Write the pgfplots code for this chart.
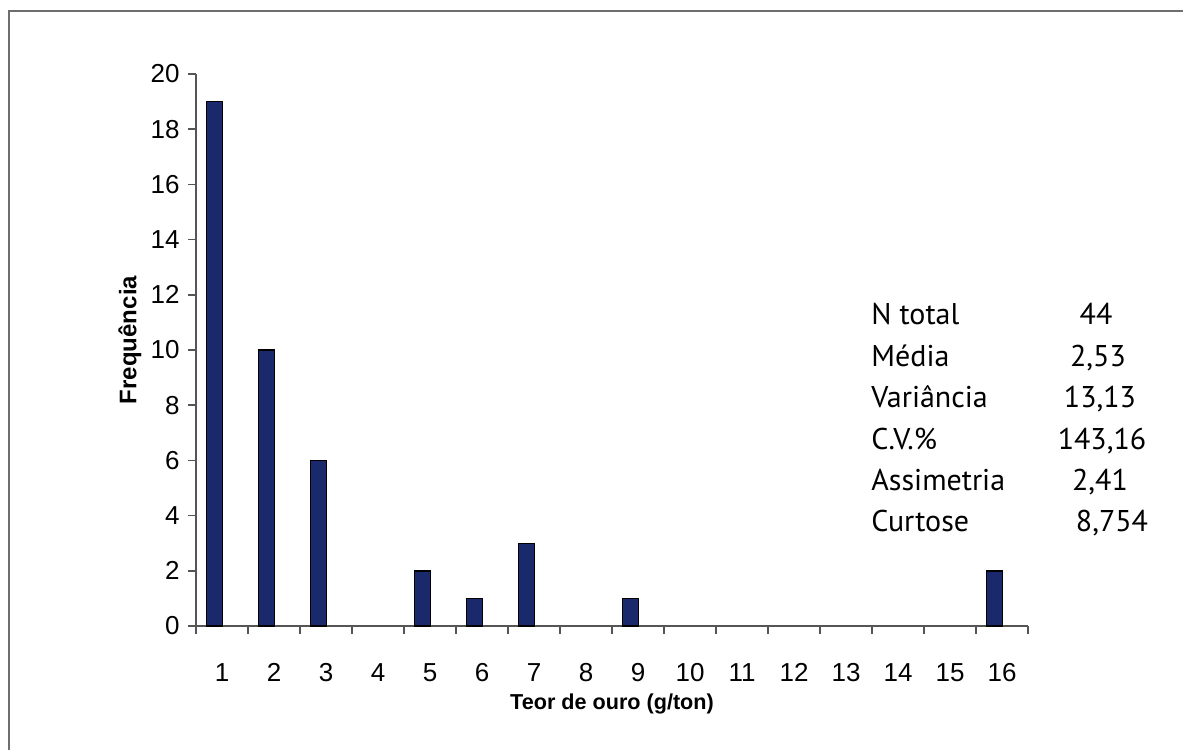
\documentclass[border=0pt]{standalone}
\usepackage{fontspec}
\setmainfont{Liberation Sans}
\newfontfamily\statfont{PT Sans}
\usepackage{pgfplots}
\pgfplotsset{compat=1.18}
\definecolor{barnavy}{RGB}{26,40,108}
\definecolor{axgray}{RGB}{85,85,85}
\definecolor{framegray}{RGB}{110,110,110}
\begin{document}
\begin{tikzpicture}
\useasboundingbox (0,0) rectangle (591.5pt,375pt);
\fill[white] (0,0) rectangle (591.5pt,375pt);
\draw[framegray, line width=1pt] (4.5pt,0pt) -- (4.5pt,369.5pt) -- (591.5pt,369.5pt);
\begin{axis}[
  at={(98pt,62pt)}, anchor=south west,
  scale only axis, width=416pt, height=276pt,
  xmin=0.5, xmax=16.5, ymin=0, ymax=20,
  axis x line*=bottom, axis y line*=left,
  axis line style={axgray, line width=0.8pt},
  xtick={1,...,16},
  xticklabels={1,2,3,4,5,6,7,8,9,10,11,12,13,14,15,16},
  major x tick style={draw=none},
  minor xtick={0.5,1.5,...,16.5},
  minor x tick style={axgray, line width=0.8pt},
  ytick={0,2,...,20},
  y tick style={axgray, line width=0.8pt},
  tick align=outside,
  minor tick length=4pt,
  major tick length=4pt,
  /pgf/number format/assume math mode=true,
  tick label style={font=\fontsize{13}{15}\selectfont, black},
  xticklabel style={anchor=base, inner sep=0pt, yshift=-23.5pt},
  yticklabel style={anchor=east, inner sep=0pt, xshift=-4pt},
  clip=false,
]
\addplot[ybar, bar width=8.25pt, bar shift=-3.75pt, fill=barnavy, draw=black, line width=0.7pt]
  coordinates {(1,19) (2,10) (3,6) (5,2) (6,1) (7,3) (9,1) (16,2)};
\end{axis}
\node[rotate=90, font=\fontsize{12}{14}\selectfont\bfseries] at (65pt,205pt) {Frequência};
\node[font=\fontsize{10.8}{12}\selectfont\bfseries] at (306pt,23pt) {Teor de ouro (g/ton)};
\begin{scope}[font=\statfont\fontsize{15}{18}\selectfont]
\node[anchor=base west, inner sep=0pt] at (435.5pt,212.5pt) {N total};
\node[anchor=base west, inner sep=0pt] at (435.5pt,191.8pt) {Média};
\node[anchor=base west, inner sep=0pt] at (435.5pt,171.1pt) {Variância};
\node[anchor=base west, inner sep=0pt] at (435.5pt,150.4pt) {C.V.\%};
\node[anchor=base west, inner sep=0pt] at (435.5pt,129.7pt) {Assimetria};
\node[anchor=base west, inner sep=0pt] at (435.5pt,109pt) {Curtose};
\node[anchor=base, inner sep=0pt] at (548pt,212.5pt) {44};
\node[anchor=base, inner sep=0pt] at (549pt,191.8pt) {2,53};
\node[anchor=base, inner sep=0pt] at (550pt,171.1pt) {13,13};
\node[anchor=base, inner sep=0pt] at (551pt,150.4pt) {143,16};
\node[anchor=base, inner sep=0pt] at (550pt,129.7pt) {2,41};
\node[anchor=base, inner sep=0pt] at (556pt,109pt) {8,754};
\end{scope}
\end{tikzpicture}
\end{document}
